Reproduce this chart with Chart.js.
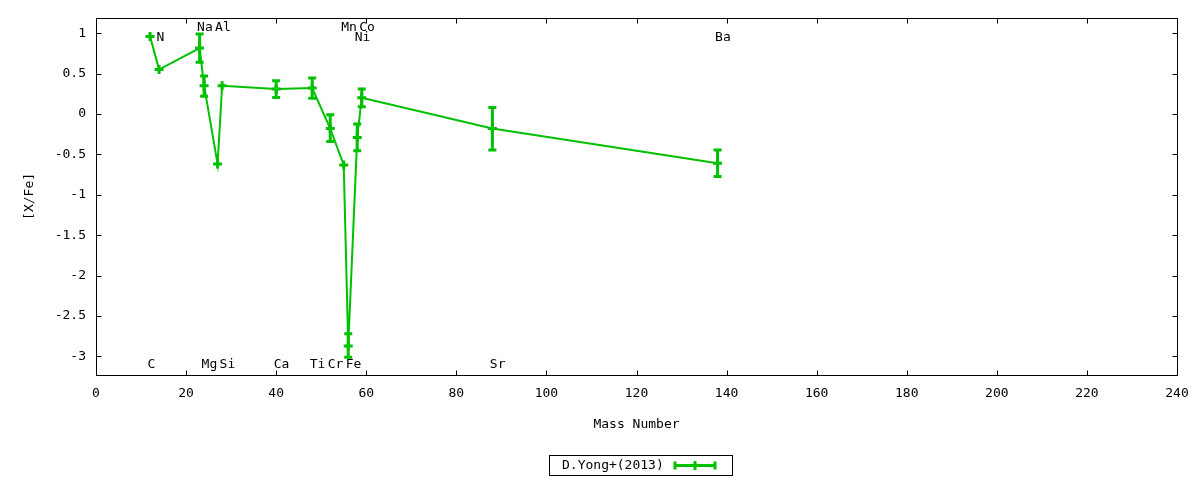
<!DOCTYPE html>
<html><head><meta charset="utf-8">
<script src="https://cdn.jsdelivr.net/npm/chart.js@4.4.1/dist/chart.umd.min.js"></script>
<style>html,body{margin:0;padding:0;background:#fff}#wrap{width:1200px;height:480px}</style>
</head><body><div id="wrap"><canvas id="c" width="1200" height="480"></canvas></div>
<script>
// ---- data ----
const elements     = ['C','N','Na','Mg','Al','Si','Ca','Ti','Cr','Mn','Fe','Ni','Co','Sr','Ba'];
const massNumbers  = [12, 14, 23, 24, 27, 28, 40, 48, 52, 55, 56, 58, 59, 88, 138];
const xfeValues    = [0.96, 0.55, 0.815, 0.35, -0.62, 0.35, 0.31, 0.32, -0.18, -0.63, -2.87, -0.29, 0.20, -0.18, -0.61];
const errPlus      = [null, null, 0.175, 0.12, null, null, 0.10, 0.125, 0.17, null, 0.15, 0.165, 0.11, 0.26, 0.165];
const errMinus     = [null, null, 0.175, 0.13, null, null, 0.105, 0.125, 0.16, null, 0.14, 0.165, 0.11, 0.265, 0.165];
const labelY       = [-3.1, 0.94, 1.07, -3.1, 1.07, -3.1, -3.1, -3.1, -3.1, 1.07, -3.1, 0.94, 1.07, -3.1, 0.94];
const xTicks       = [0, 20, 40, 60, 80, 100, 120, 140, 160, 180, 200, 220, 240];
const yTicks       = [-3, -2.5, -2, -1.5, -1, -0.5, 0, 0.5, 1];
const seriesName   = 'D.Yong+(2013)';
const xTitle       = 'Mass Number';
const yTitle       = '[X/Fe]';

const GREEN = '#00c000';
const FONT = "'DejaVu Sans Mono', monospace";

const points = massNumbers.map((m, i) => ({x: m, y: xfeValues[i]}));

function drawCross(ctx, x, y, r) {
  ctx.beginPath();
  ctx.moveTo(x - r, y); ctx.lineTo(x + r, y);
  ctx.moveTo(x, y - r); ctx.lineTo(x, y + r);
  ctx.stroke();
}

const decor = {
  id: 'decor',
  afterDatasetsDraw(chart) {
    const {ctx, chartArea: a, scales: {x: xs, y: ys}} = chart;
    ctx.save();
    ctx.beginPath(); ctx.rect(a.left, a.top, a.right - a.left, a.bottom - a.top); ctx.clip();
    ctx.strokeStyle = GREEN;
    ctx.lineWidth = 3;
    ctx.lineCap = 'butt';
    massNumbers.forEach((m, i) => {
      if (errPlus[i] == null) return;
      const px = xs.getPixelForValue(m);
      const top = ys.getPixelForValue(xfeValues[i] + errPlus[i]);
      const bot = ys.getPixelForValue(xfeValues[i] - errMinus[i]);
      ctx.beginPath();
      ctx.moveTo(px, top); ctx.lineTo(px, bot);
      ctx.moveTo(px - 4, top); ctx.lineTo(px + 4, top);
      ctx.moveTo(px - 4, bot); ctx.lineTo(px + 4, bot);
      ctx.stroke();
    });
    ctx.restore();
  },
  afterDraw(chart) {
    const {ctx, chartArea: a, scales: {x: xs, y: ys}} = chart;
    ctx.save();
    // element labels
    ctx.fillStyle = '#000';
    ctx.font = '13px ' + FONT;
    ctx.textAlign = 'left';
    ctx.textBaseline = 'middle';
    elements.forEach((el, i) => {
      ctx.fillText(el, xs.getPixelForValue(massNumbers[i]) - 2.5, ys.getPixelForValue(labelY[i]));
    });
    // frame
    ctx.strokeStyle = '#000';
    ctx.lineWidth = 1;
    const L = Math.round(a.left) + 0.5, R = Math.round(a.right) + 0.5;
    const T = Math.round(a.top) + 0.5, B = Math.round(a.bottom) + 0.5;
    ctx.strokeRect(L, T, R - L, B - T);
    // inward ticks (mirrored)
    const tl = 5;
    ctx.beginPath();
    xTicks.forEach(v => {
      const p = Math.round(xs.getPixelForValue(v)) + 0.5;
      ctx.moveTo(p, B); ctx.lineTo(p, B - tl);
      ctx.moveTo(p, T); ctx.lineTo(p, T + tl);
    });
    yTicks.forEach(v => {
      const p = Math.round(ys.getPixelForValue(v)) + 0.5;
      ctx.moveTo(L, p); ctx.lineTo(L + tl, p);
      ctx.moveTo(R, p); ctx.lineTo(R - tl, p);
    });
    ctx.stroke();
    // legend
    const bx = 549.5, by = 455.5, bw = 183, bh = 20;
    ctx.strokeRect(bx, by, bw, bh);
    const cy = by + bh / 2;
    ctx.fillText(chart.data.datasets[0].label, 562, cy + 0.5);
    ctx.strokeStyle = GREEN;
    ctx.lineWidth = 3;
    ctx.beginPath();
    ctx.moveTo(674, cy); ctx.lineTo(716, cy);
    ctx.moveTo(675, cy - 4); ctx.lineTo(675, cy + 4);
    ctx.moveTo(715, cy - 4); ctx.lineTo(715, cy + 4);
    ctx.stroke();
    drawCross(ctx, 695, cy, 4.5);
    ctx.restore();
  }
};

new Chart(document.getElementById('c'), {
  type: 'line',
  data: {
    datasets: [{
      label: seriesName,
      data: points,
      borderColor: GREEN,
      backgroundColor: GREEN,
      borderWidth: 2,
      tension: 0,
      pointStyle: 'cross',
      pointRadius: 4.5,
      pointBorderWidth: 3,
      pointHoverRadius: 4.5,
      fill: false
    }]
  },
  options: {
    responsive: false,
    animation: false,
    devicePixelRatio: 1,
    events: [],
    layout: {padding: {left: 0, right: 23, top: 17, bottom: 0}},
    plugins: {legend: {display: false}, tooltip: {enabled: false}},
    scales: {
      x: {
        type: 'linear',
        min: 0, max: 240,
        afterBuildTicks: s => { s.ticks = xTicks.map(v => ({value: v})); },
        afterFit: s => { s.height = 105; },
        grid: {display: false, drawTicks: false},
        border: {display: false},
        ticks: {color: '#000', font: {family: FONT, size: 13}, padding: 11, maxRotation: 0,
                callback: v => String(v)},
        title: {display: true, text: xTitle, color: '#000', font: {family: FONT, size: 13},
                padding: {top: 0, bottom: 48}}
      },
      y: {
        type: 'linear',
        min: -3.23, max: 1.19,
        afterBuildTicks: s => { s.ticks = yTicks.map(v => ({value: v})); },
        afterFit: s => { s.width = 96; },
        grid: {display: false, drawTicks: false},
        border: {display: false},
        ticks: {color: '#000', font: {family: FONT, size: 13}, padding: 10,
                callback: v => String(v)},
        title: {display: true, text: yTitle, color: '#000', font: {family: FONT, size: 13},
                padding: {top: 22, bottom: 0}}
      }
    }
  },
  plugins: [decor]
});
</script>
</body></html>
